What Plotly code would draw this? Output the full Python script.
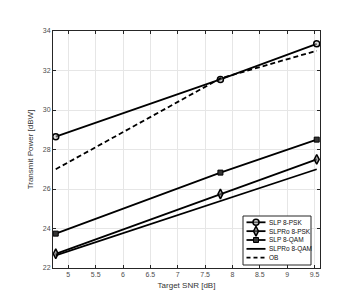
import plotly.graph_objects as go

snr = [4.77, 7.78, 9.54]
slp_psk = [28.65, 31.55, 33.35]
slpro_psk = [22.72, 25.75, 27.5]
slp_qam = [23.74, 26.83, 28.5]
slpro_qam = [22.64, 25.4, 27.0]
ob = [27.0, 31.6, 33.0]
series_names = ["SLP 8-PSK", "SLPRo 8-PSK", "SLP 8-QAM", "SLPRo 8-QAM", "OB"]
x_ticks = [5, 5.5, 6, 6.5, 7, 7.5, 8, 8.5, 9, 9.5]
x_ticklabels = ["5", "5.5", "6", "6.5", "7", "7.5", "8", "8.5", "9", "9.5"]
y_ticks = [22, 24, 26, 28, 30, 32, 34]

lw = 1.8
styles = [
    dict(mode="lines+markers", dash="solid",
         marker=dict(symbol="circle", size=6, color="rgba(190,190,190,0.5)", line=dict(color="black", width=1.5))),
    dict(mode="lines+markers", dash="solid",
         marker=dict(symbol="diamond-tall", size=7, color="rgba(110,110,110,0.6)", line=dict(color="black", width=1.5))),
    dict(mode="lines+markers", dash="solid",
         marker=dict(symbol="square", size=5, color="#333", line=dict(color="black", width=1))),
    dict(mode="lines", dash="solid", marker=None),
    dict(mode="lines", dash="5px,3px", marker=None),
]
data = [slp_psk, slpro_psk, slp_qam, slpro_qam, ob]

fig = go.Figure()
for name, ys, st in zip(series_names, data, styles):
    kw = dict(x=snr, y=ys, name=name, mode=st["mode"],
              line=dict(color="black", width=lw, dash=st["dash"]), showlegend=False)
    if st["marker"]:
        kw["marker"] = st["marker"]
    fig.add_trace(go.Scatter(**kw))

# custom compact legend on an overlay axis in pixel units
bx0, bx1, by0, by1 = 235, 303, 208, 257
row0, row_step = 214.3, 8.85
fig.add_trace(go.Scatter(x=[bx0, bx1, bx1, bx0, bx0], y=[by0, by0, by1, by1, by0],
                         mode="lines", fill="toself", fillcolor="white",
                         line=dict(color="#262626", width=1), xaxis="x2", yaxis="y2",
                         showlegend=False, hoverinfo="skip"))
for i, (name, st) in enumerate(zip(series_names, styles)):
    yy = row0 + i * row_step
    dash = "4px,3px" if st["dash"] != "solid" else "solid"
    fig.add_trace(go.Scatter(x=[238.5, 257.5], y=[yy, yy], mode="lines", xaxis="x2", yaxis="y2",
                             line=dict(color="black", width=lw, dash=dash),
                             showlegend=False, hoverinfo="skip"))
    if st["marker"]:
        fig.add_trace(go.Scatter(x=[248], y=[yy], mode="markers", xaxis="x2", yaxis="y2",
                                 marker=st["marker"], showlegend=False, hoverinfo="skip"))
    fig.add_annotation(x=259, y=yy, xref="x2", yref="y2", text=name, showarrow=False,
                       xanchor="left", yanchor="middle",
                       font=dict(size=6.5, color="#111", family="Liberation Sans"))

axis_common = dict(showgrid=True, gridcolor="#e6e6e6", gridwidth=1, showline=True,
                   linecolor="#262626", linewidth=1, mirror="ticks", ticks="inside",
                   ticklen=3, tickcolor="#262626", zeroline=False,
                   tickfont=dict(size=7, color="#4d4d4d", family="Liberation Sans"))
fig.update_layout(
    xaxis=dict(range=[4.72, 9.6], tickvals=x_ticks, ticktext=x_ticklabels,
               title=dict(text="Target SNR [dB]", font=dict(size=8, color="#333", family="Liberation Sans"), standoff=4),
               **axis_common),
    yaxis=dict(range=[22, 34], tickvals=y_ticks,
               title=dict(text="Transmit Power [dBW]", font=dict(size=8, color="#333", family="Liberation Sans"), standoff=8),
               **axis_common),
    xaxis2=dict(range=[45, 312], overlaying="x", visible=False, fixedrange=True),
    yaxis2=dict(range=[260, 23], overlaying="y", visible=False, fixedrange=True),
    width=344, height=292, plot_bgcolor="white", paper_bgcolor="white",
    margin=dict(l=45, r=32, t=23, b=32),
    showlegend=False,
)
fig.write_html("out.html")
